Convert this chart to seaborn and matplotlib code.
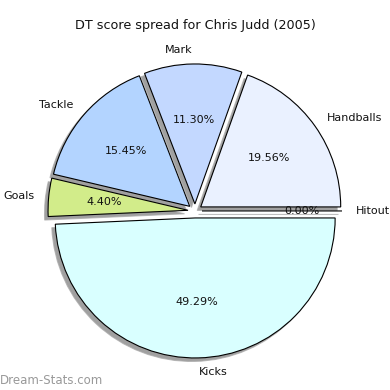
import matplotlib
matplotlib.use("Agg")
import matplotlib.pyplot as plt
import seaborn as sns

sns.set_theme(style="white")
plt.rcParams['font.family'] = ['DejaVu Sans']

categories = ["Handballs", "Mark", "Tackle", "Goals", "Kicks", "Hitout"]
values = [19.56, 11.30, 15.45, 4.40, 49.29, 0.00]
colors = ["#eaf1ff", "#c3d8ff", "#b3d4ff", "#d2ec8a", "#d9ffff", "#ffffff"]
title = "DT score spread for Chris Judd (2005)"
watermark = "Dream-Stats.com"

fig = plt.figure(figsize=(3.9, 3.9), dpi=100)
ax = fig.add_axes([0, 0, 1, 1])
wedges, texts, autotexts = ax.pie(
    values, labels=categories, colors=colors, explode=[0.05] * len(values),
    autopct="%1.2f%%", startangle=0, counterclock=True,
    shadow={'ox': -0.018, 'oy': -0.018, 'facecolor': '#808080',
            'edgecolor': '#aaaaaa', 'alpha': 0.75},
    wedgeprops={'edgecolor': 'black', 'linewidth': 0.8},
    textprops={'fontsize': 8, 'color': '#111111'},
)
# zero-size wedge label sits further out in the reference
autotexts[-1].set_x(autotexts[-1].get_position()[0] + 0.11)

ax.set_aspect('equal')
ax.set_xlim(-1.393, 1.393)
ax.set_ylim(-1.279, 1.507)
ax.axis('off')

fig.text(0.5, 1 - 25 / 390, title, ha='center', va='center', fontsize=9.2, color='#111111')
fig.text(0.0, 1 - 380 / 390, watermark, ha='left', va='center', fontsize=8.5,
         color='#999999')

fig.savefig("out.png", dpi=100, facecolor='white')
